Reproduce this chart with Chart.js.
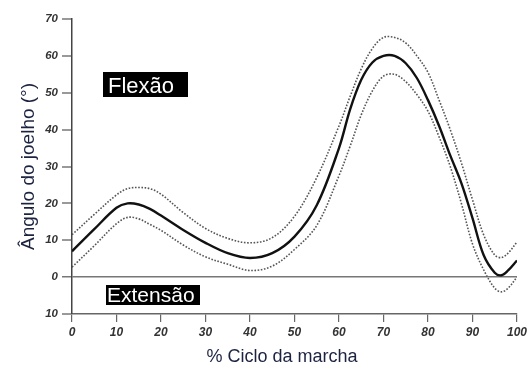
<!DOCTYPE html>
<html>
<head>
<meta charset="utf-8">
<script src="https://cdn.jsdelivr.net/npm/chart.js@4/dist/chart.umd.min.js"></script>
<style>
  html, body { margin: 0; padding: 0; background: #fff; }
  #wrap { width: 530px; height: 369px; position: relative; }
</style>
</head>
<body>
<div id="wrap"><canvas id="c" width="530" height="369"></canvas></div>
<script>
// % of gait cycle (x positions of the sampled points)
const cycle = [0, 5, 10, 12.5, 15, 17.5, 20, 25, 30, 35, 40, 45, 50, 55, 60, 62.5, 65, 67.5, 70, 72.5, 75, 77.5, 80, 82.5, 85, 87.5, 90, 92.5, 95, 96.5, 98, 100];
// mean knee angle (solid)
const meanAngle = [7, 13, 18.8, 20, 19.7, 18.5, 16.7, 12.8, 9.3, 6.5, 5.2, 6.5, 11, 19.5, 35, 45.5, 53.5, 58.2, 60, 60, 58, 54, 48, 41, 33, 25.5, 16, 6, 1.2, 0.5, 1.8, 4.5];
// upper band (dotted)
const upperAngle = [11.5, 17, 22.3, 24, 24.3, 24, 22.5, 17.5, 13.2, 10.5, 9.3, 10.7, 16.5, 27, 41, 49, 56.5, 62, 65, 65, 63.5, 60, 55.5, 48, 40, 31, 21, 11.5, 6, 5.3, 6.5, 9.5];
// lower band (dotted)
const lowerAngle = [2.7, 8.5, 14.5, 16.2, 15.8, 14.3, 12.7, 8.7, 5.5, 3.5, 1.8, 3, 7.5, 14, 27.5, 35.5, 44, 50.5, 54.5, 55, 53, 49.5, 45, 38, 30, 20, 9, 2, -3, -4, -3, 0];
// tick labels
const xTickValues = [0, 10, 20, 30, 40, 50, 60, 70, 80, 90, 100];
const xTickLabels = ['0', '10', '20', '30', '40', '50', '60', '70', '80', '90', '100'];
const yTickValues = [-10, 0, 10, 20, 30, 40, 50, 60, 70];
const yTickLabels = ['10', '0', '10', '20', '30', '40', '50', '60', '70'];
const yTitle = 'Ângulo do joelho (°)';
const xTitle = '% Ciclo da marcha';
const flexLabel = 'Flexão';
const extLabel = 'Extensão';

const pts = arr => cycle.map((x, i) => ({x: x, y: arr[i]}));

const annot = {
  id: 'annot',
  afterDraw(chart) {
    const {ctx, chartArea: a} = chart;
    ctx.save();
    // Flexão box
    ctx.fillStyle = '#000';
    ctx.fillRect(a.left + 31, a.top + 53, 85, 25);
    ctx.fillStyle = '#fff';
    ctx.font = '22px "Liberation Sans", Arial, sans-serif';
    ctx.textBaseline = 'alphabetic';
    ctx.textAlign = 'left';
    ctx.fillText(flexLabel, a.left + 36, a.top + 74);
    // Extensão box
    ctx.fillStyle = '#000';
    ctx.fillRect(a.left + 34, a.top + 266, 94, 20);
    ctx.fillStyle = '#fff';
    ctx.font = '21px "Liberation Sans", Arial, sans-serif';
    ctx.fillText(extLabel, a.left + 35, a.top + 283);
    // x title
    ctx.fillStyle = '#1c2340';
    ctx.font = '18px "Liberation Sans", Arial, sans-serif';
    ctx.textAlign = 'center';
    ctx.textBaseline = 'middle';
    ctx.fillText(xTitle, 282, 357);
    ctx.restore();
  }
};

new Chart(document.getElementById('c'), {
  type: 'line',
  data: {
    datasets: [
      { label: 'upper', data: pts(upperAngle), borderColor: '#555', borderWidth: 1.6, borderDash: [1.6, 1.6], pointRadius: 0, fill: false, tension: 0.35 },
      { label: 'mean', data: pts(meanAngle), borderColor: '#111', borderWidth: 2.4, pointRadius: 0, fill: false, tension: 0.35 },
      { label: 'lower', data: pts(lowerAngle), borderColor: '#555', borderWidth: 1.6, borderDash: [1.6, 1.6], pointRadius: 0, fill: false, tension: 0.35 }
    ]
  },
  options: {
    responsive: false,
    animation: false,
    layout: { padding: { top: 19, right: 10, left: 0, bottom: 0 } },
    plugins: { legend: { display: false }, tooltip: { enabled: false } },
    scales: {
      x: {
        type: 'linear', min: 0, max: 100,
        afterFit: s => { s.height = 55; },
        afterBuildTicks: s => { s.ticks = xTickValues.map(v => ({value: v})); },
        border: { display: true, color: '#666', width: 1.5 },
        grid: { display: true, drawOnChartArea: false, drawTicks: true, tickLength: 8, color: '#666', tickColor: '#666', lineWidth: 1.2 },
        ticks: {
          padding: 3, maxRotation: 0, autoSkip: false, color: '#333',
          font: { family: '"Liberation Sans", Arial, sans-serif', size: 12, style: 'italic', weight: 'bold' },
          callback: v => xTickLabels[xTickValues.indexOf(v)]
        }
      },
      y: {
        type: 'linear', min: -10, max: 70,
        afterFit: s => { s.width = 72; },
        afterBuildTicks: s => { s.ticks = yTickValues.map(v => ({value: v})); },
        border: { display: true, color: '#444', width: 1.5 },
        grid: {
          display: true, drawOnChartArea: true, drawTicks: true, tickLength: 10,
          color: c => (c.tick && c.tick.value === 0) ? '#777' : 'rgba(0,0,0,0)',
          lineWidth: c => (c.tick && c.tick.value === 0) ? 1.6 : 0,
          tickColor: '#555', tickWidth: 1.2
        },
        ticks: {
          padding: 4, autoSkip: false, color: '#333',
          font: { family: '"Liberation Sans", Arial, sans-serif', size: 11.5, style: 'italic', weight: 'bold' },
          callback: v => yTickLabels[yTickValues.indexOf(v)]
        },
        title: {
          display: true, text: yTitle, color: '#1c2340',
          font: { family: '"Liberation Sans", Arial, sans-serif', size: 19 },
          padding: { top: 17, bottom: 0 }
        }
      }
    }
  },
  plugins: [annot]
});
</script>
</body>
</html>
